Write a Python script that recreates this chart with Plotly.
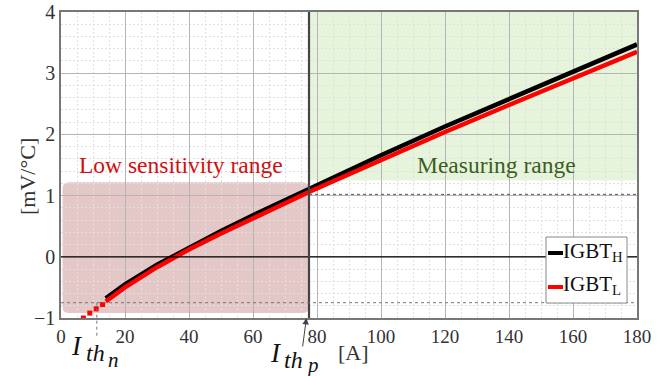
import plotly.graph_objects as go

# ---- data ----
x_black = [14, 20, 30, 40, 50, 60, 70, 78, 90, 100, 120, 140, 160, 180]
y_black = [-0.68, -0.45, -0.13, 0.15, 0.42, 0.68, 0.93, 1.13, 1.42, 1.66, 2.13, 2.58, 3.03, 3.47]
x_red = [14, 20, 30, 40, 50, 60, 70, 78, 90, 100, 120, 140, 160, 180]
y_red = [-0.73, -0.50, -0.17, 0.12, 0.38, 0.63, 0.88, 1.07, 1.35, 1.58, 2.04, 2.48, 2.92, 3.35]
x_red_dots = [7, 9, 11, 13]
y_red_dots = [-1.0, -0.92, -0.85, -0.78]

x_ticks = [0, 20, 40, 60, 80, 100, 120, 140, 160, 180]
y_ticks = [-1, 0, 1, 2, 3, 4]
series_names = ["IGBT<sub>H</sub>", "IGBT<sub>L</sub>"]
series_colors = ["#000000", "#ff0000"]

ith_n = 11.2
ith_p = 77.5
low_top = 1.22
low_bottom = -0.92
meas_bottom = 1.25
ref_dot_hi = 1.02
ref_dot_lo = -0.75

SERIF = "'Liberation Serif', 'Times New Roman', serif"

fig = go.Figure()
fig.add_trace(go.Scatter(x=x_black, y=y_black, mode="lines", name=series_names[0],
                         line=dict(color=series_colors[0], width=4.5), showlegend=False))
fig.add_trace(go.Scatter(x=x_red, y=y_red, mode="lines", name=series_names[1],
                         line=dict(color=series_colors[1], width=4.5), showlegend=False))
fig.add_trace(go.Scatter(x=x_red_dots, y=y_red_dots, mode="markers", showlegend=False,
                         marker=dict(color=series_colors[1], size=5, symbol="square")))

# rounded red box
x0, x1, y0, y1 = 0.5, ith_p, low_bottom, low_top
rx, ry = 2.0, 0.1
red_path = (f"M {x0+rx},{y0} L {x1-rx},{y0} Q {x1},{y0} {x1},{y0+ry} "
            f"L {x1},{y1-ry} Q {x1},{y1} {x1-rx},{y1} L {x0+rx},{y1} Q {x0},{y1} {x0},{y1-ry} "
            f"L {x0},{y0+ry} Q {x0},{y0} {x0+rx},{y0} Z")

def px_x(p):
    return (p - 61) / 576

def px_y(p):
    return (318 - p) / 306

shapes = [
    dict(type="rect", xref="x", yref="y", x0=ith_p, x1=180, y0=meas_bottom, y1=4,
         fillcolor="rgba(140,205,90,0.22)", line=dict(width=0), layer="below"),
    dict(type="path", xref="x", yref="y", path=red_path,
         fillcolor="rgba(165,70,70,0.30)", line=dict(width=0), layer="below"),
    dict(type="line", xref="x", yref="y", x0=0, x1=180, y0=0, y1=0,
         line=dict(color="#000000", width=1.2)),
    dict(type="line", xref="x", yref="y", x0=ith_p, x1=ith_p, y0=-1, y1=4,
         line=dict(color="#444444", width=2.2)),
    dict(type="line", xref="x", yref="y", x0=ith_p, x1=180, y0=ref_dot_hi, y1=ref_dot_hi,
         line=dict(color="#555555", width=1, dash="dot")),
    dict(type="line", xref="x", yref="y", x0=0, x1=180, y0=ref_dot_lo, y1=ref_dot_lo,
         line=dict(color="#777777", width=1, dash="dot")),
    dict(type="line", xref="paper", yref="paper", x0=ith_n / 180, x1=ith_n / 180,
         y0=(ref_dot_lo + 1) / 5, y1=-0.06,
         line=dict(color="#777777", width=1, dash="dot")),
    # legend box
    dict(type="rect", xref="paper", yref="paper", x0=px_x(546), x1=px_x(627),
         y0=px_y(303), y1=px_y(237), fillcolor="white", line=dict(color="#888888", width=1)),
    dict(type="line", xref="paper", yref="paper", x0=px_x(548), x1=px_x(563),
         y0=px_y(253), y1=px_y(253), line=dict(color=series_colors[0], width=4)),
    dict(type="line", xref="paper", yref="paper", x0=px_x(548), x1=px_x(563),
         y0=px_y(287), y1=px_y(287), line=dict(color=series_colors[1], width=4)),
]

annotations = [
    dict(x=37.5, y=1.5, xref="x", yref="y", text="Low sensitivity range", showarrow=False,
         font=dict(family=SERIF, size=23.5, color="#d01010"), xanchor="center", yanchor="middle"),
    dict(x=136, y=1.5, xref="x", yref="y", text="Measuring range", showarrow=False,
         font=dict(family=SERIF, size=23.5, color="#3b5e22"), xanchor="center", yanchor="middle"),
    # I_th_n
    dict(x=7.6, y=-0.093, xref="x", yref="paper", text="<i>I</i>", showarrow=False,
         font=dict(family=SERIF, size=27, color="#111"), xanchor="right", yanchor="middle"),
    dict(x=7.2, y=-0.113, xref="x", yref="paper", text="<i>th</i>", showarrow=False,
         font=dict(family=SERIF, size=24, color="#111"), xanchor="left", yanchor="middle"),
    dict(x=14.2, y=-0.138, xref="x", yref="paper", text="<i>n</i>", showarrow=False,
         font=dict(family=SERIF, size=21, color="#111"), xanchor="left", yanchor="middle"),
    # I_th_p
    dict(x=69.6, y=-0.113, xref="x", yref="paper", text="<i>I</i>", showarrow=False,
         font=dict(family=SERIF, size=27, color="#111"), xanchor="right", yanchor="middle"),
    dict(x=69.0, y=-0.137, xref="x", yref="paper", text="<i>th</i>", showarrow=False,
         font=dict(family=SERIF, size=24, color="#111"), xanchor="left", yanchor="middle"),
    dict(x=75.8, y=-0.152, xref="x", yref="paper", text="<i>p</i>", showarrow=False,
         font=dict(family=SERIF, size=21, color="#111"), xanchor="left", yanchor="middle"),
    # arrow to I_th_p
    dict(x=ith_p - 0.8, y=0, xref="x", yref="paper", ax=-4, ay=30, text="", showarrow=True,
         arrowhead=2, arrowsize=1.3, arrowwidth=1, arrowcolor="#444"),
    # [A]
    dict(x=91.5, y=-0.113, xref="x", yref="paper", text="[A]", showarrow=False,
         font=dict(family=SERIF, size=22, color="#333"), xanchor="center", yanchor="middle"),
    # y title
    dict(x=px_x(27), y=px_y(177), xref="paper", yref="paper", text="[mV/°C]", textangle=-90,
         showarrow=False, font=dict(family=SERIF, size=22, color="#333"),
         xanchor="center", yanchor="middle"),
    # legend texts
    dict(x=px_x(563), y=px_y(252), xref="paper", yref="paper", text=series_names[0],
         showarrow=False, font=dict(family=SERIF, size=21, color="#111"),
         xanchor="left", yanchor="middle", xshift=-2),
    dict(x=px_x(563), y=px_y(285), xref="paper", yref="paper", text=series_names[1],
         showarrow=False, font=dict(family=SERIF, size=21, color="#111"),
         xanchor="left", yanchor="middle", xshift=-2),
]

fig.update_layout(
    width=666, height=376,
    margin=dict(l=61, r=29, t=12, b=58, autoexpand=False),
    plot_bgcolor="white", paper_bgcolor="white",
    font=dict(family=SERIF, color="#333"),
    shapes=shapes, annotations=annotations,
    showlegend=False,
)
fig.update_xaxes(range=[0, 180], tickvals=x_ticks, ticks="", showline=True, linecolor="#777",
                 linewidth=1.5, mirror=True, showgrid=True, gridcolor="#b5b5b5", gridwidth=1,
                 zeroline=False, automargin=False, tickfont=dict(family=SERIF, size=19, color="#333"),
                 minor=dict(dtick=5, showgrid=True, gridcolor="#e0e0e0", griddash="2px,2px"))
fig.update_yaxes(range=[-1, 4], tickvals=y_ticks, ticks="", showline=True, linecolor="#777",
                 linewidth=1.5, mirror=True, showgrid=True, gridcolor="#b5b5b5", gridwidth=1,
                 zeroline=False, automargin=False, tickfont=dict(family=SERIF, size=20, color="#333"),
                 minor=dict(dtick=0.2, showgrid=True, gridcolor="#e0e0e0", griddash="2px,2px"))

fig.write_html("out.html")
